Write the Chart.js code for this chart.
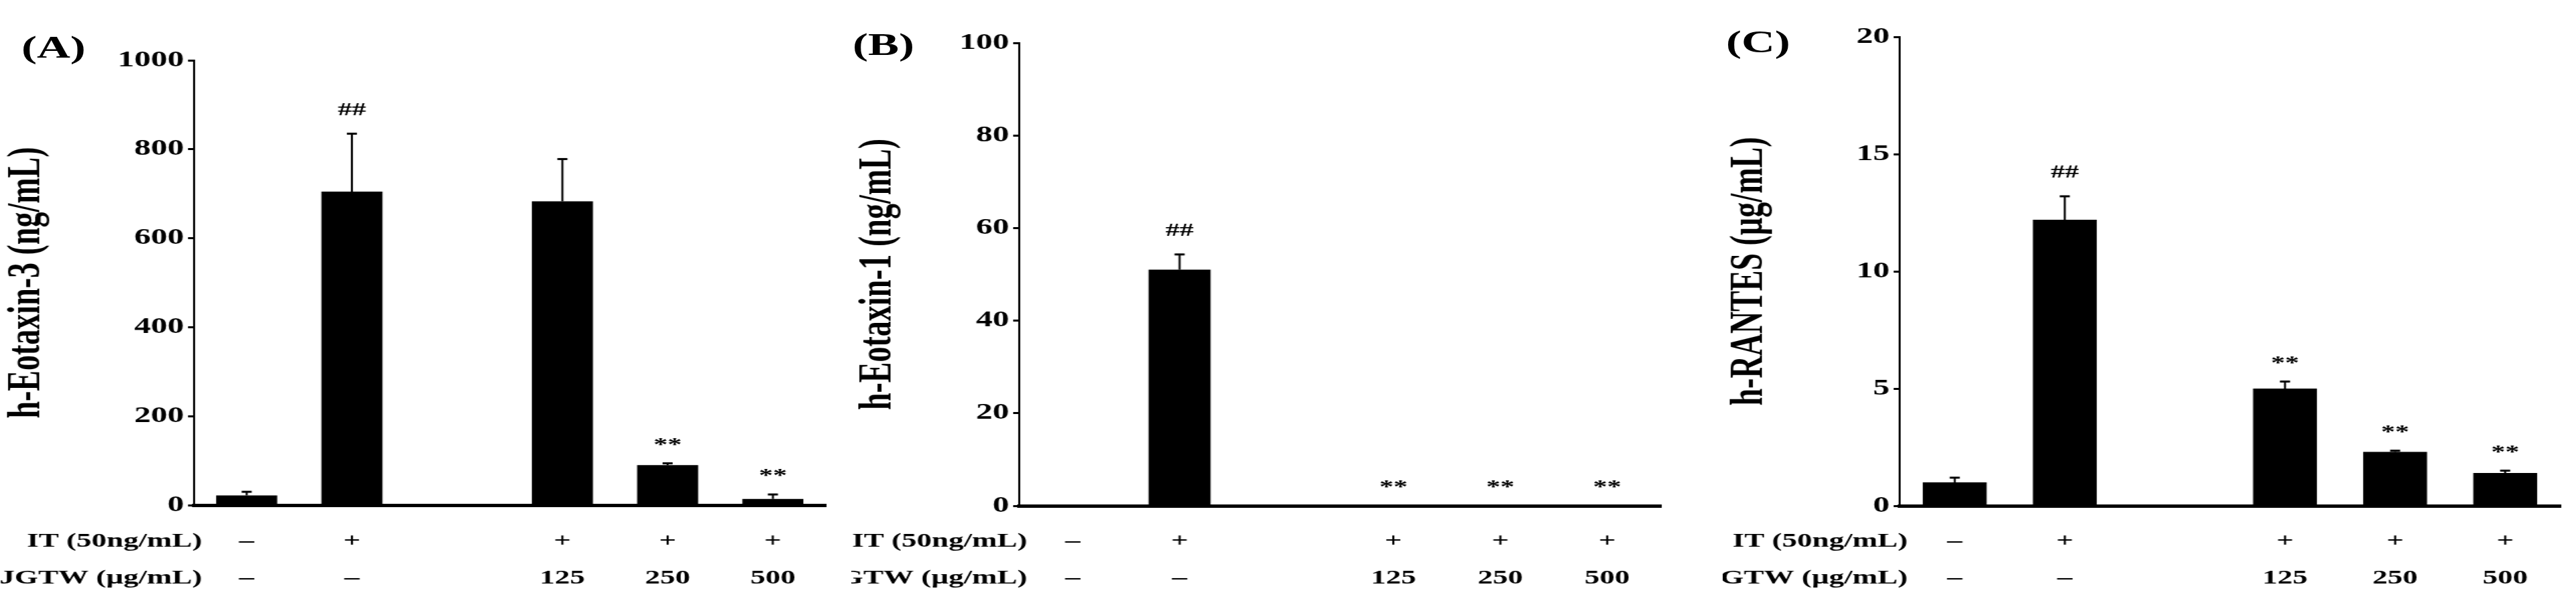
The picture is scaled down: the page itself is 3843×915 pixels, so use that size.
<!DOCTYPE html>
<html>
<head>
<meta charset="utf-8">
<script src="https://cdn.jsdelivr.net/npm/chart.js@4/dist/chart.umd.min.js"></script>
<style>
  body { margin: 0; background: #fff; width: 3843px; height: 915px; position: relative; overflow: hidden; }
  .panel { position: absolute; top: 0; height: 915px; transform: scaleX(1.5); transform-origin: 0 0; }
  .tag { position: absolute; font: bold 46px "Liberation Serif"; color: #000; transform: scaleX(1.5); transform-origin: 0 0; }
</style>
</head>
<body>
<div class="tag" style="left:32px;top:44px">(A)</div>
<div class="tag" style="left:1272px;top:40px">(B)</div>
<div class="tag" style="left:2575px;top:36px">(C)</div>
<div class="panel" style="left:0"><canvas id="chartA"></canvas></div>
<div class="panel" style="left:1270px"><canvas id="chartB"></canvas></div>
<div class="panel" style="left:2570px"><canvas id="chartC"></canvas></div>
<script>
const groups = ["1", "2", "", "3", "4", "5"];
const itRow = ["\u2013", "+", "", "+", "+", "+"];
const jgtwRow = ["\u2013", "\u2013", "", "125", "250", "500"];

const eotaxin3 = [22, 705, null, 683, 90, 14];
const eotaxin3Err = [8, 130, 0, 95, 4, 10];
const eotaxin3Marks = ["", "##", "", "", "**", "**"];

const eotaxin1 = [0, 51, null, 0, 0, 0];
const eotaxin1Err = [0, 3.3, 0, 0, 0, 0];
const eotaxin1Marks = ["", "##", "", "**", "**", "**"];

const rantes = [1.0, 12.2, null, 5.0, 2.3, 1.4];
const rantesErr = [0.2, 1.0, 0, 0.3, 0.05, 0.1];
const rantesMarks = ["", "##", "", "**", "**", "**"];

const serif = "Liberation Serif";
const SX = 1.5;

const extras = {
  id: "extras",
  afterDatasetsDraw(chart, args, opts) {
    const ctx = chart.ctx;
    const x = chart.scales.x, y = chart.scales.y;
    const meta = chart.getDatasetMeta(0);
    ctx.save();
    ctx.strokeStyle = "#000";
    ctx.fillStyle = "#000";
    opts.values.forEach((v, i) => {
      if (v === null) return;
      const bx = meta.data[i].x;
      const top = y.getPixelForValue(v);
      const e = opts.errors[i];
      let markY = top;
      if (e > 0) {
        const et = y.getPixelForValue(v + e);
        ctx.lineWidth = 2;
        ctx.beginPath();
        ctx.moveTo(bx, top); ctx.lineTo(bx, et);
        ctx.stroke();
        ctx.lineWidth = 3;
        ctx.beginPath();
        ctx.moveTo(bx - 5, et); ctx.lineTo(bx + 5, et);
        ctx.stroke();
        markY = et;
      }
      if (opts.marks[i]) {
        ctx.font = "bold 28px " + serif;
        ctx.textAlign = "center";
        ctx.textBaseline = "alphabetic";
        ctx.fillText(opts.marks[i], bx, markY - (opts.marks[i] === "##" ? 28 : 20));
      }
    });
    // treatment rows
    const lx = chart.chartArea.left + 8;
    ctx.font = "bold 30px " + serif;
    ctx.textBaseline = "middle";
    ctx.textAlign = "right";
    ctx.fillText("IT (50ng/mL)", lx, 808);
    ctx.fillText("JGTW (\u00b5g/mL)", lx, 863);
    ctx.textAlign = "center";
    groups.forEach((g, i) => {
      const cx = x.getPixelForValue(i);
      ctx.fillText(itRow[i], cx, 808);
      ctx.fillText(jgtwRow[i], cx, 863);
    });
    ctx.restore();
  }
};

function makePanel(id, cssWidth, axisX, plotRight, topY, zeroY, values, errors, marks, max, step, title) {
  const width = Math.round(cssWidth / SX);
  const canvas = document.getElementById(id);
  canvas.width = width; canvas.height = 915;
  canvas.style.width = width + "px"; canvas.style.height = "915px";
  return new Chart(canvas, {
    type: "bar",
    data: {
      labels: groups,
      datasets: [{
        data: values,
        backgroundColor: "#000",
        borderWidth: 0,
        categoryPercentage: 1,
        barPercentage: 0.58,
      }],
    },
    plugins: [extras],
    options: {
      responsive: false,
      animation: false,
      devicePixelRatio: 1,
      layout: { padding: { top: topY, left: 0, right: Math.round((cssWidth - plotRight) / SX), bottom: 0 } },
      plugins: {
        legend: { display: false },
        tooltip: { enabled: false },
        extras: { values: values, errors: errors, marks: marks },
      },
      scales: {
        x: {
          ticks: { display: false },
          grid: { display: false },
          border: { color: "#000", width: 5 },
          afterFit(s) { s.height = 915 - zeroY; },
        },
        y: {
          min: 0,
          max: max,
          ticks: {
            stepSize: step,
            color: "#000",
            padding: 4,
            font: { family: serif, size: 33, weight: "bold" },
            callback: (v) => String(v),
          },
          grid: { drawOnChartArea: false, color: "#000", tickLength: 6, lineWidth: 3 },
          border: { color: "#000", width: 2 },
          title: {
            display: true,
            text: title,
            color: "#000",
            padding: { top: 0, bottom: 4 },
            font: { family: serif, size: 46, weight: "bold" },
          },
          afterFit(s) { s.width = Math.round(axisX / SX); },
        },
      },
    },
  });
}

makePanel("chartA", 1245, 290, 1231, 90, 754, eotaxin3, eotaxin3Err, eotaxin3Marks, 1000, 200, "h-Eotaxin-3 (ng/mL)");
makePanel("chartB", 1220, 250, 1208, 64, 755, eotaxin1, eotaxin1Err, eotaxin1Marks, 100, 20, "h-Eotaxin-1 (ng/mL)");
makePanel("chartC", 1260, 264, 1250, 55, 755, rantes, rantesErr, rantesMarks, 20, 5, "h-RANTES (\u00b5g/mL)");
</script>
</body>
</html>
